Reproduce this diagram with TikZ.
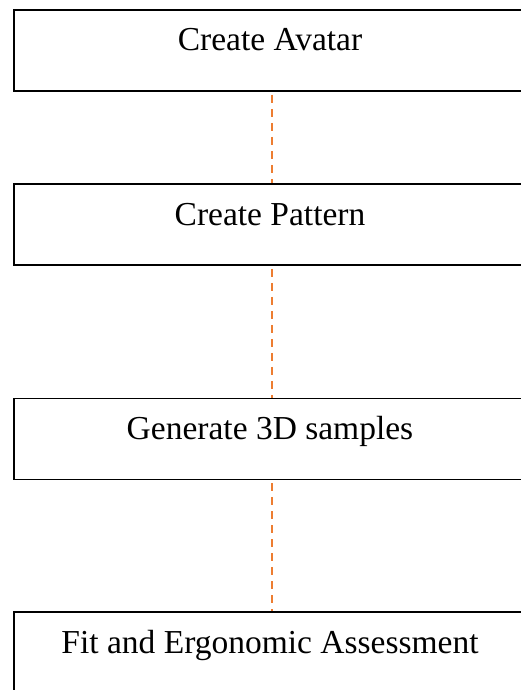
\documentclass[tikz,border=0pt]{standalone}
\usepackage{fontspec}
\setmainfont{Liberation Serif}
\definecolor{linkorange}{HTML}{ED7D31}
\begin{document}
\begin{tikzpicture}[x=1bp, y=-1bp,
  stagebox/.style={draw=black, line width=1.5bp, minimum width=512bp,
    inner sep=0pt, text height=41bp, text depth=40bp,
    font=\fontsize{33.5bp}{40bp}\selectfont},
  link/.style={draw=linkorange, line width=1.8bp, dash pattern=on 8bp off 6bp}]
\useasboundingbox (0,0) rectangle (521,690);

\node[stagebox] (avatar)  at (270,50.5)  {Create Avatar};
\node[stagebox] (pattern) at (270,224.5) {Create Pattern};
\node[stagebox] (samples) at (270,439)   {Generate 3D samples};
\node[stagebox] (assess)  at (270,652.5) {Fit and Ergonomic Assessment};

\foreach \a/\b in {avatar/pattern, pattern/samples, samples/assess}
{
  \draw[link] ([xshift=2bp,yshift=-3bp]\a.south) -- ([xshift=2bp]\b.north);
}

\end{tikzpicture}
\end{document}
